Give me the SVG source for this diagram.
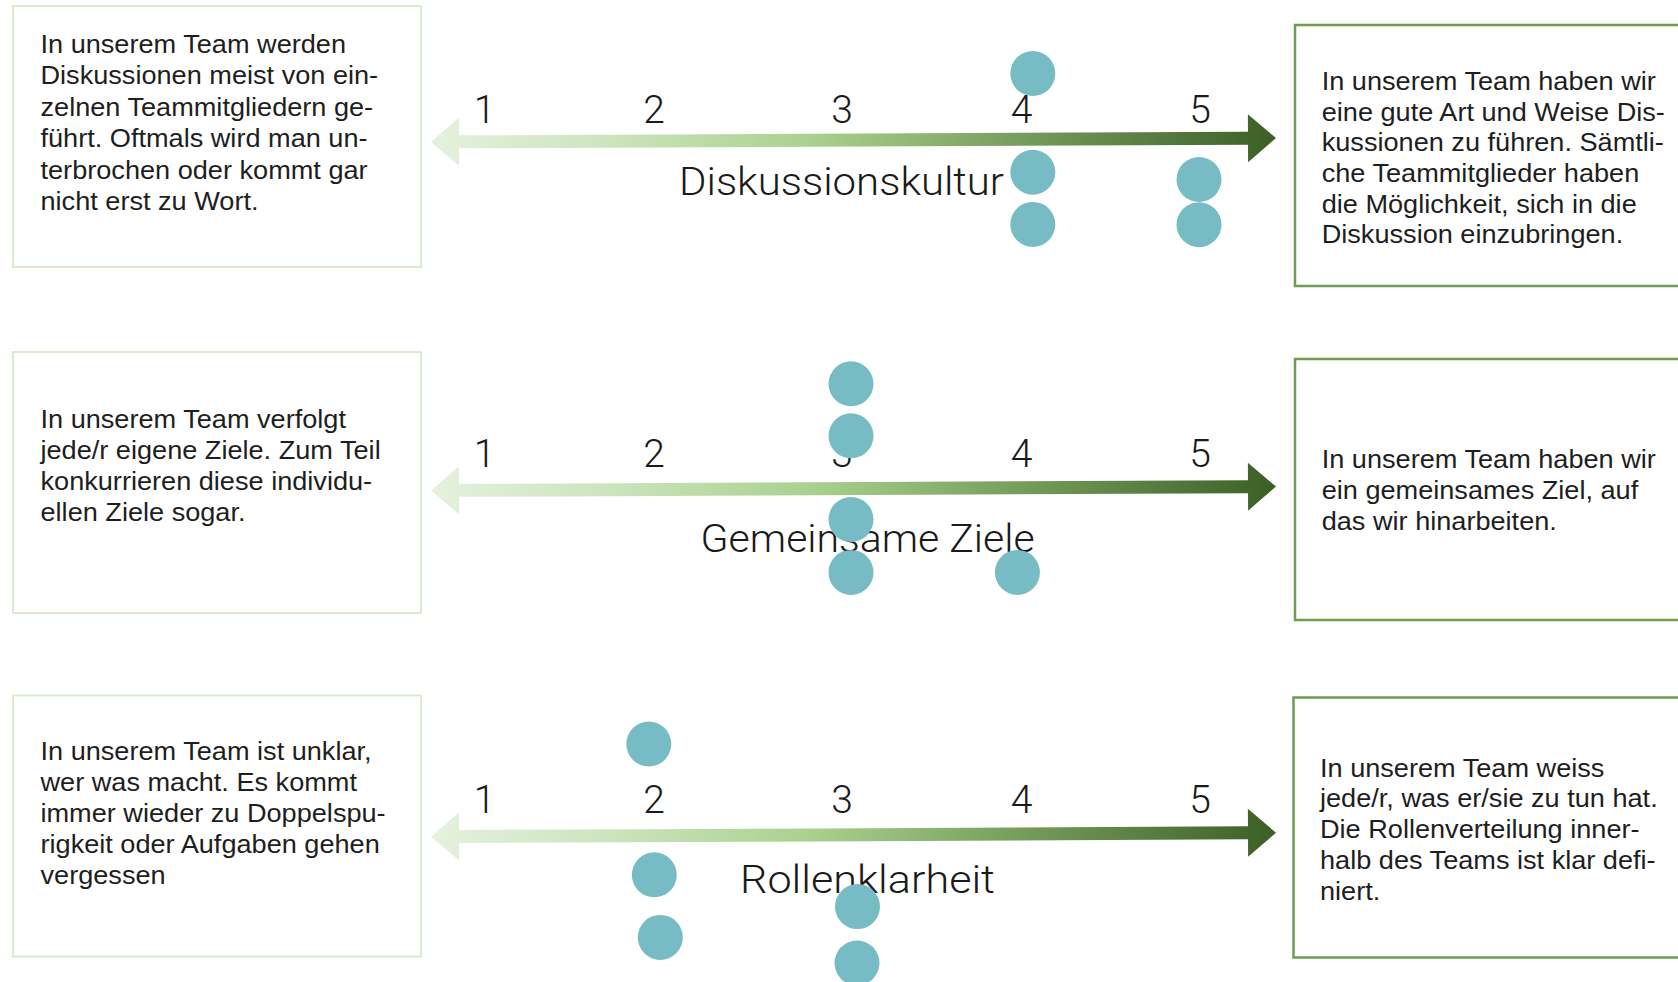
<svg xmlns="http://www.w3.org/2000/svg" width="1678" height="982" viewBox="0 0 1678 982">
<defs>
<linearGradient id="arrowGrad" x1="0" y1="0" x2="1" y2="0">
<stop offset="0" stop-color="#e5f1de"/>
<stop offset="0.2" stop-color="#cde5bf"/>
<stop offset="0.45" stop-color="#a9d18e"/>
<stop offset="0.7" stop-color="#769c5c"/>
<stop offset="1" stop-color="#3b5f25"/>
</linearGradient>
<path id="scaleArrow" d="M0,0 L28,-24 L28,-6.5 L817,-6.5 L817,-24 L845,0 L817,24 L817,6.5 L28,6.5 L28,24 Z"/>
</defs>
<style>
.boxL{fill:#ffffff;stroke:#d6eacb;stroke-width:1.8}
.boxR{fill:#ffffff;stroke:#6f9d52;stroke-width:2.5}
.body{font-family:"Liberation Sans",Arial,sans-serif;font-size:25px;fill:#1e1e1e}
.num{font-family:Roboto,"DejaVu Sans",sans-serif;font-weight:300;font-size:39px;fill:#1a1a1a;text-anchor:middle}
.lbl{font-family:Roboto,"DejaVu Sans",sans-serif;font-weight:300;font-size:39px;fill:#1a1a1a}
.dot{fill:#77bcc4}
.arrow{fill:url(#arrowGrad)}
</style>
<rect width="1678" height="982" fill="#ffffff"/>

<g id="box-left-1">
<rect class="boxL" x="13" y="6" width="408" height="261"/>
<text class="body" transform="translate(40.5,0) scale(1.085,1)">
<tspan x="0" y="53">In unserem Team werden</tspan>
<tspan x="0" y="84.4">Diskussionen meist von ein-</tspan>
<tspan x="0" y="115.8">zelnen Teammitgliedern ge-</tspan>
<tspan x="0" y="147.2">führt. Oftmals wird man un-</tspan>
<tspan x="0" y="178.6">terbrochen oder kommt gar</tspan>
<tspan x="0" y="210">nicht erst zu Wort.</tspan>
</text>
</g>

<g id="box-right-1">
<rect class="boxR" x="1295" y="25" width="420" height="261"/>
<text class="body" transform="translate(1321.7,0) scale(1.085,1)">
<tspan x="0" y="90">In unserem Team haben wir</tspan>
<tspan x="0" y="120.7">eine gute Art und Weise Dis-</tspan>
<tspan x="0" y="151.4">kussionen zu führen. Sämtli-</tspan>
<tspan x="0" y="182.1">che Teammitglieder haben</tspan>
<tspan x="0" y="212.8">die Möglichkeit, sich in die</tspan>
<tspan x="0" y="243.5">Diskussion einzubringen.</tspan>
</text>
</g>

<g id="box-left-2">
<rect class="boxL" x="13" y="352" width="408" height="261"/>
<text class="body" transform="translate(40.5,0) scale(1.085,1)">
<tspan x="0" y="428.3">In unserem Team verfolgt</tspan>
<tspan x="0" y="459.3">jede/r eigene Ziele. Zum Teil</tspan>
<tspan x="0" y="490.3">konkurrieren diese individu-</tspan>
<tspan x="0" y="521.3">ellen Ziele sogar.</tspan>
</text>
</g>

<g id="box-right-2">
<rect class="boxR" x="1295" y="359" width="420" height="261"/>
<text class="body" transform="translate(1321.7,0) scale(1.085,1)">
<tspan x="0" y="468.3">In unserem Team haben wir</tspan>
<tspan x="0" y="499">ein gemeinsames Ziel, auf</tspan>
<tspan x="0" y="529.7">das wir hinarbeiten.</tspan>
</text>
</g>

<g id="box-left-3">
<rect class="boxL" x="13" y="695.5" width="408" height="261"/>
<text class="body" transform="translate(40.5,0) scale(1.085,1)">
<tspan x="0" y="760">In unserem Team ist unklar,</tspan>
<tspan x="0" y="791">wer was macht. Es kommt</tspan>
<tspan x="0" y="822">immer wieder zu Doppelspu-</tspan>
<tspan x="0" y="853">rigkeit oder Aufgaben gehen</tspan>
<tspan x="0" y="884">vergessen</tspan>
</text>
</g>

<g id="box-right-3">
<rect class="boxR" x="1293.5" y="697.5" width="420" height="260"/>
<text class="body" transform="translate(1320,0) scale(1.085,1)">
<tspan x="0" y="776.7">In unserem Team weiss</tspan>
<tspan x="0" y="807.5">jede/r, was er/sie zu tun hat.</tspan>
<tspan x="0" y="838.3">Die Rollenverteilung inner-</tspan>
<tspan x="0" y="869.1">halb des Teams ist klar defi-</tspan>
<tspan x="0" y="900">niert.</tspan>
</text>
</g>

<g id="connectors">
<use href="#scaleArrow" class="arrow" transform="translate(431,142) rotate(-0.27)"/>
<use href="#scaleArrow" class="arrow" transform="translate(431,490.5) rotate(-0.27)"/>
<use href="#scaleArrow" class="arrow" transform="translate(431,836.7) rotate(-0.27)"/>
</g>

<g id="scale-1">
<text class="num" x="484.5" y="123.3">1</text>
<text class="num" x="654" y="123.3">2</text>
<text class="num" x="842" y="123.3">3</text>
<text class="num" x="1021.6" y="123.3">4</text>
<text class="num" x="1200" y="123.3">5</text>
<text class="lbl" x="679" y="195" textLength="325" lengthAdjust="spacingAndGlyphs">Diskussionskultur</text>
</g>

<g id="scale-2">
<text class="num" x="484.5" y="466.7">1</text>
<text class="num" x="654" y="466.7">2</text>
<text class="num" x="842" y="466.7">3</text>
<text class="num" x="1021.6" y="466.7">4</text>
<text class="num" x="1200" y="466.7">5</text>
<text class="lbl" x="700.6" y="551.7" textLength="334" lengthAdjust="spacingAndGlyphs">Gemeinsame Ziele</text>
</g>

<g id="scale-3">
<text class="num" x="484.5" y="813.3">1</text>
<text class="num" x="654" y="813.3">2</text>
<text class="num" x="842" y="813.3">3</text>
<text class="num" x="1021.6" y="813.3">4</text>
<text class="num" x="1200" y="813.3">5</text>
<text class="lbl" x="740" y="892.7" textLength="255" lengthAdjust="spacingAndGlyphs">Rollenklarheit</text>
</g>

<g id="dots-1">
<circle class="dot" cx="1032.8" cy="73.5" r="22.5"/>
<circle class="dot" cx="1032.8" cy="172.2" r="22.5"/>
<circle class="dot" cx="1032.8" cy="224.4" r="22.5"/>
<circle class="dot" cx="1199" cy="179.5" r="22.5"/>
<circle class="dot" cx="1199" cy="224.7" r="22.5"/>
</g>

<g id="dots-2">
<circle class="dot" cx="851" cy="383.8" r="22.5"/>
<circle class="dot" cx="851" cy="435.8" r="22.5"/>
<circle class="dot" cx="851" cy="519.5" r="22.5"/>
<circle class="dot" cx="851" cy="572.4" r="22.5"/>
<circle class="dot" cx="1017.4" cy="572.4" r="22.5"/>
</g>

<g id="dots-3">
<circle class="dot" cx="648.8" cy="744" r="22.5"/>
<circle class="dot" cx="654.3" cy="874.8" r="22.5"/>
<circle class="dot" cx="660.3" cy="937.4" r="22.5"/>
<circle class="dot" cx="857.5" cy="906.6" r="22.5"/>
<circle class="dot" cx="857" cy="963" r="22.5"/>
</g>
</svg>
